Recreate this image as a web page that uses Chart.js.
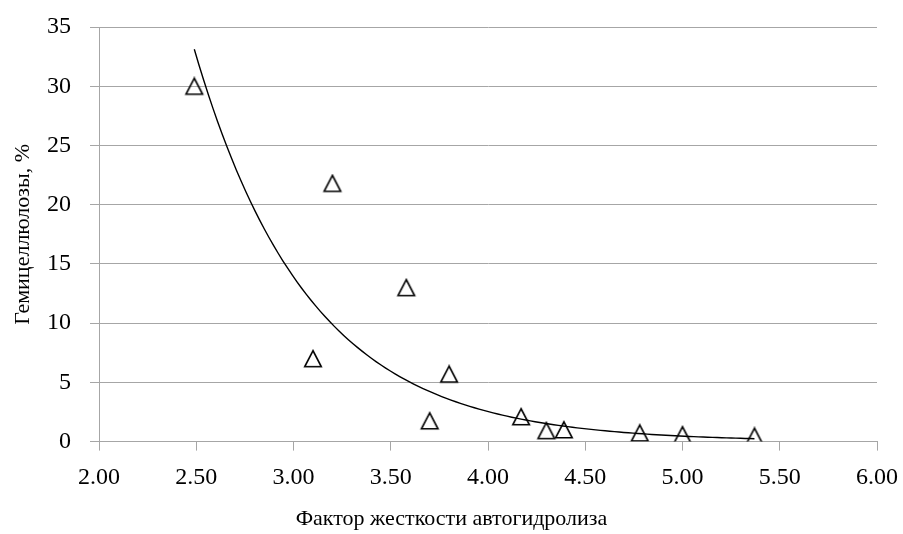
<!DOCTYPE html>
<html>
<head>
<meta charset="utf-8">
<script src="https://cdn.jsdelivr.net/npm/chart.js@4.4.1/dist/chart.umd.min.js"></script>
<style>
  html, body { margin: 0; padding: 0; background: #ffffff; }
  #wrap { width: 903px; height: 534px; position: relative; }
</style>
</head>
<body>
<div id="wrap"><canvas id="c" width="903" height="534"></canvas></div>
<script>
// ---- data ----
const severityFactor = [2.49, 3.10, 3.20, 3.58, 3.70, 3.80, 4.17, 4.30, 4.39, 4.78, 5.00, 5.37];
const hemicellulose = [29.9, 6.9, 21.7, 12.9, 1.65, 5.6, 2.0, 0.83, 0.9, 0.63, 0.48, 0.36];
const xTitle = 'Фактор жесткости автогидролиза';
const yTitle = 'Гемицеллюлозы, %';

// ---- exponential trendline (least squares on ln y, as a spreadsheet does) ----
function expFit(xs, ys) {
  const n = xs.length;
  const ly = ys.map(v => Math.log(v));
  const mx = xs.reduce((a, b) => a + b, 0) / n;
  const my = ly.reduce((a, b) => a + b, 0) / n;
  let sxy = 0, sxx = 0;
  for (let i = 0; i < n; i++) { sxy += (xs[i] - mx) * (ly[i] - my); sxx += (xs[i] - mx) * (xs[i] - mx); }
  const b = sxy / sxx;
  const a = Math.exp(my - b * mx);
  return { a, b };
}
const fit = expFit(severityFactor, hemicellulose);
const xMinFit = Math.min(...severityFactor), xMaxFit = Math.max(...severityFactor);
const trendPts = [];
const steps = 120;
for (let i = 0; i <= steps; i++) {
  const x = xMinFit + (xMaxFit - xMinFit) * i / steps;
  trendPts.push({ x, y: fit.a * Math.exp(fit.b * x) });
}

const scatterPts = severityFactor.map((x, i) => ({ x, y: hemicellulose[i] }));

// triangle marker (spreadsheet-style: slightly above the point's centre)
function makeTriangle() {
  const cv = document.createElement('canvas');
  cv.width = 22; cv.height = 22;
  const g = cv.getContext('2d');
  g.lineWidth = 1.6;
  g.strokeStyle = '#000';
  g.lineJoin = 'miter';
  g.beginPath();
  g.moveTo(11, 1.8);
  g.lineTo(2.7, 17.8);
  g.lineTo(19.3, 17.8);
  g.closePath();
  g.stroke();
  return cv;
}
const tri = makeTriangle();

const gridColor = '#a6a6a6';
const FONT = "'Liberation Serif', 'Times New Roman', serif";

new Chart(document.getElementById('c'), {
  type: 'scatter',
  data: {
    datasets: [
      {
        label: 'data',
        data: scatterPts,
        pointStyle: tri,
        pointRadius: 10,
        pointHoverRadius: 10,
        showLine: false,
        order: 2
      },
      {
        label: 'trend',
        data: trendPts,
        showLine: true,
        borderColor: '#000',
        borderWidth: 1.4,
        pointRadius: 0,
        pointHoverRadius: 0,
        tension: 0,
        fill: false,
        order: 1
      }
    ]
  },
  options: {
    responsive: false,
    animation: false,
    events: [],
    layout: { padding: { top: 27, right: 0, bottom: 0, left: 0 } },
    plugins: {
      legend: { display: false },
      tooltip: { enabled: false },
      title: {
        display: true,
        position: 'bottom',
        align: 'center',
        text: xTitle,
        color: '#000',
        font: { family: FONT, size: 22, weight: 'normal' },
        padding: { top: 0, bottom: 2 }
      }
    },
    scales: {
      x: {
        type: 'linear',
        min: 2, max: 6,
        afterFit: s => { s.height = 64; s.paddingLeft = 0; s.paddingRight = 0; },
        ticks: {
          stepSize: 0.5,
          callback: v => v.toFixed(2),
          color: '#000',
          font: { family: FONT, size: 24 },
          padding: 13,
          maxRotation: 0
        },
        grid: { display: true, drawOnChartArea: false, drawTicks: true, tickLength: 9, color: gridColor, lineWidth: 1 },
        border: { display: true, color: gridColor, width: 1 },
        title: { display: false }
      },
      y: {
        type: 'linear',
        min: 0, max: 35,
        afterFit: s => { s.width = 99; s.paddingTop = 0; s.paddingBottom = 0; },
        ticks: {
          stepSize: 5,
          color: '#000',
          font: { family: FONT, size: 24 },
          padding: 19
        },
        grid: { display: true, drawOnChartArea: true, drawTicks: true, tickLength: 9, color: gridColor, lineWidth: 1 },
        border: { display: true, color: gridColor, width: 1 },
        title: {
          display: true, text: yTitle, color: '#000',
          font: { family: FONT, size: 22 },
          padding: { top: 10, bottom: 0 }
        }
      },
      yRightSpacer: {
        type: 'linear',
        position: 'right',
        min: 0, max: 35,
        afterFit: s => { s.width = 26; s.paddingTop = 0; s.paddingBottom = 0; },
        ticks: { display: false },
        grid: { display: false, drawTicks: false },
        border: { display: false },
        title: { display: false }
      }
    }
  }
});
</script>
</body>
</html>
